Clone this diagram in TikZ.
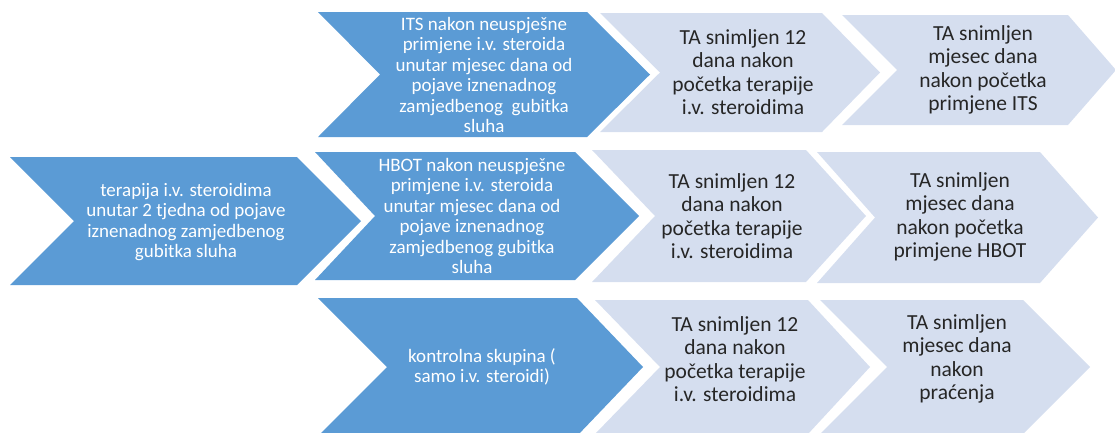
\documentclass[tikz,border=0pt]{standalone}
\usepackage{fontspec}
\setmainfont{Carlito}
\definecolor{darkfill}{HTML}{5B9BD5}
\definecolor{lightfill}{HTML}{D5DEEF}
\definecolor{lighttext}{HTML}{262626}
\newcommand{\mychev}[7]{\fill[#1] (#2,#3) -- (#6,#3) -- (#7,{(#3+#4)/2}) -- (#6,#4) -- (#2,#4) -- (#5,{(#3+#4)/2}) -- cycle;}
\tikzset{
  darkchev/.style={fill=darkfill},
  lightchev/.style={fill=lightfill},
  darktxt/.style={text=white, align=center, inner sep=0pt, font=\fontsize{19}{20.5}\selectfont},
  lighttxt/.style={text=lighttext, align=center, inner sep=0pt, font=\fontsize{21.5}{23.3}\selectfont}
}
\begin{document}
\begin{tikzpicture}[x=1pt,y=-1pt]
\useasboundingbox (0,0) rectangle (1115,432);
\clip (0,0) rectangle (1115,432);
% left chevron
\mychev{darkchev}{10}{157}{285}{74}{297}{361}
% row 1
\mychev{darkchev}{318}{12}{137}{380}{587}{650}
\mychev{lightchev}{600}{13}{132}{660}{822}{880}
\mychev{lightchev}{842}{15}{125}{897}{1068}{1116}
% row 2
\mychev{darkchev}{315}{152}{280}{375}{575}{639}
\mychev{lightchev}{592}{150}{282}{655}{806}{866}
\mychev{lightchev}{817}{152}{283}{875}{1040}{1098}
% row 3
\mychev{darkchev}{318}{298}{436}{387}{577}{643}
\mychev{lightchev}{595}{300}{434}{660}{808}{870}
\mychev{lightchev}{820}{300}{434}{887}{1023}{1090}
% texts
\node[darktxt] (t0) at (186,222) {terapija i.v. steroidima\\unutar 2 tjedna od pojave\\iznenadnog zamjedbenog\\gubitka sluha};
\node[darktxt] (d1) at (484,75) {ITS nakon neuspješne\\primjene i.v. steroida\\unutar mjesec dana od\\pojave iznenadnog\\zamjedbenog\ \ gubitka\\sluha};
\node[lighttxt] (l1) at (743,72) {TA snimljen 12\\dana nakon\\početka terapije\\i.v. steroidima};
\node[lighttxt] (l2) at (983,70) {TA snimljen\\mjesec dana\\nakon početka\\primjene ITS};
\node[darktxt] (d2) at (472,216) {HBOT nakon neuspješne\\primjene i.v. steroida\\unutar mjesec dana od\\pojave iznenadnog\\zamjedbenog gubitka\\sluha};
\node[lighttxt] (l3) at (732,216) {TA snimljen 12\\dana nakon\\početka terapije\\i.v. steroidima};
\node[lighttxt] (l4) at (960,217) {TA snimljen\\mjesec dana\\nakon početka\\primjene HBOT};
\node[darktxt] (d3) at (482,367) {kontrolna skupina (\\samo i.v. steroidi)};
\node[lighttxt] (l5) at (735,359) {TA snimljen 12\\dana nakon\\početka terapije\\i.v. steroidima};
\node[lighttxt] (l6) at (957,359) {TA snimljen\\mjesec dana\\nakon\\praćenja};
\end{tikzpicture}
\end{document}
